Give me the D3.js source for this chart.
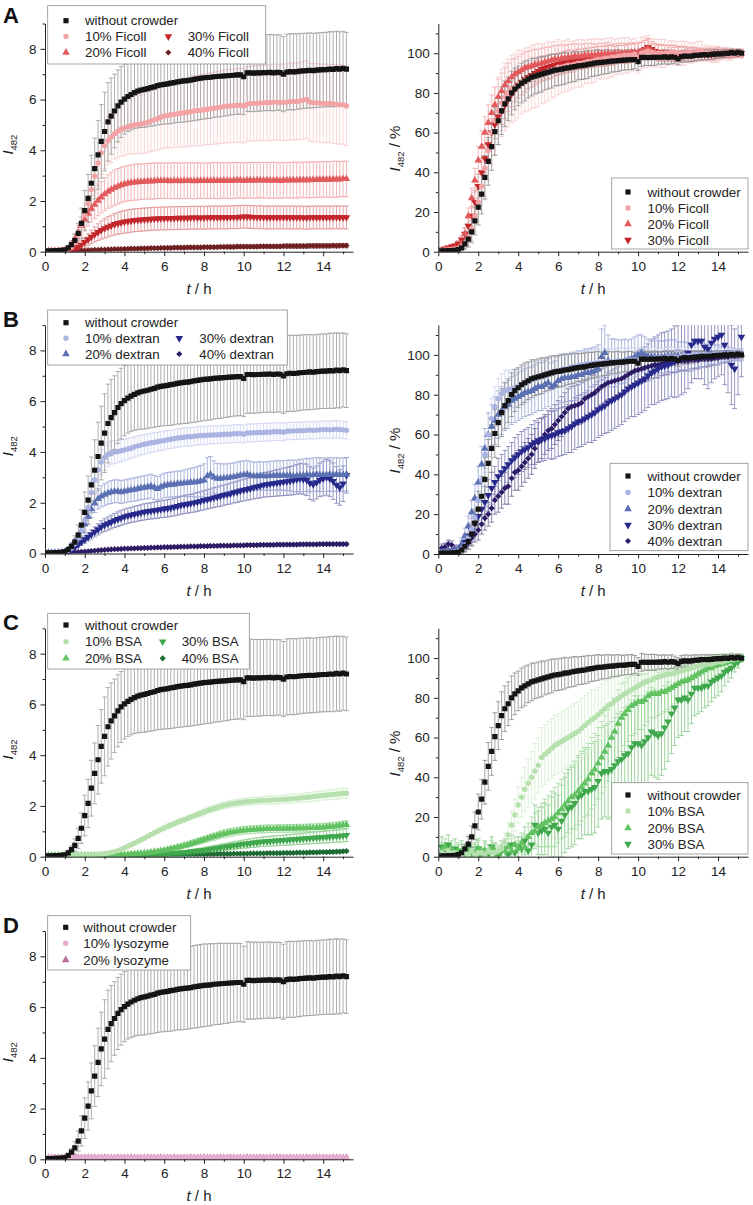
<!DOCTYPE html>
<html>
<head>
<meta charset="utf-8">
<script src="https://cdn.jsdelivr.net/npm/d3@7"></script>
<style>
  body { margin: 0; background: #fff; }
  svg { display: block; }
</style>
</head>
<body>
<svg id="fig" width="753" height="1205"></svg>
<script>
// ---------- Data (10-min sampling) ----------
const TIME_H = [
  0.17,0.33,0.5,0.67,0.83,1, 1.17,1.33,1.5,1.67,1.83,2, 2.17,2.33,2.5,2.67,2.83,3,
  3.17,3.33,3.5,3.67,3.83,4, 4.17,4.33,4.5,4.67,4.83,5, 5.17,5.33,5.5,5.67,5.83,6,
  6.17,6.33,6.5,6.67,6.83,7, 7.17,7.33,7.5,7.67,7.83,8, 8.17,8.33,8.5,8.67,8.83,9,
  9.17,9.33,9.5,9.67,9.83,10, 10.17,10.33,10.5,10.67,10.83,11, 11.17,11.33,11.5,11.67,11.83,12,
  12.17,12.33,12.5,12.67,12.83,13, 13.17,13.33,13.5,13.67,13.83,14, 14.17,14.33,14.5,14.67,14.83,15,
  15.17];

// without crowder (absolute)
const NOCROWD_ABS = [
  0.03,0.03,0.04,0.04,0.05,0.07, 0.15,0.28,0.45,0.72,1.12,1.62, 2.1,2.7,3.28,3.82,4.35,4.74,
  5.12,5.35,5.55,5.75,5.9,6.02, 6.12,6.2,6.27,6.33,6.37,6.4, 6.43,6.47,6.5,6.55,6.58,6.6,
  6.62,6.65,6.67,6.7,6.72,6.74, 6.75,6.77,6.8,6.82,6.84,6.86, 6.87,6.88,6.9,6.91,6.92,6.93,
  6.94,6.95,6.96,6.97,6.97,6.9, 7.05,7.05,7.04,7.05,7.05,7.06, 7.06,7.07,7.05,7.07,7.06,7.0,
  7.08,7.1,7.09,7.1,7.12,7.13, 7.14,7.15,7.14,7.16,7.17,7.18, 7.18,7.2,7.19,7.22,7.2,7.23,
  7.2];
const NOCROWD_ABS_ERR = [
  0.02,0.02,0.02,0.03,0.03,0.05, 0.1,0.15,0.25,0.4,0.6,0.8, 0.95,1.1,1.2,1.35,1.45,1.55,
  1.55,1.5,1.45,1.42,1.4,1.38, 1.38,1.4,1.42,1.45,1.47,1.5, 1.5,1.52,1.53,1.55,1.56,1.57,
  1.58,1.6,1.6,1.6,1.62,1.62, 1.62,1.62,1.63,1.63,1.63,1.63, 1.62,1.62,1.6,1.6,1.6,1.58,
  1.58,1.56,1.55,1.55,1.54,1.5, 1.53,1.52,1.52,1.51,1.51,1.5, 1.5,1.5,1.5,1.49,1.49,1.48,
  1.5,1.5,1.5,1.49,1.49,1.48, 1.48,1.48,1.47,1.47,1.47,1.47, 1.47,1.48,1.48,1.48,1.47,1.46,
  1.45];
// without crowder (normalised, %)
const NOCROWD_PCT = [
  0.4,0.4,0.5,0.6,0.7,1, 2,3.9,6.3,10,15.5,22.5, 29,37.5,45.5,53,60.5,66,
  71,74.5,77,80,82,83.5, 85,86,87,88,88.5,89, 89.5,90,90.5,91,91.5,91.7,
  92,92.4,92.6,93,93.3,93.6, 93.8,94,94.4,94.7,95,95.3, 95.4,95.6,95.8,96,96.1,96.3,
  96.4,96.5,96.7,96.8,96.8,95.8, 97.9,97.9,97.8,97.9,97.9,98, 98,98.2,97.9,98.2,98,97.2,
  98.3,98.6,98.5,98.6,98.9,99, 99.2,99.3,99.2,99.4,99.6,99.7, 99.7,100,99.9,100.3,100,100.4,
  100];
const NOCROWD_PCT_ERR = [
  0.3,0.3,0.3,0.4,0.5,0.8, 1.5,2.5,4,5.5,7,9, 10,11,12,12,12,12,
  12,11.5,11,11,10.5,10, 10,10,9.5,9.5,9,9, 9,8.5,8.5,8.5,8,8,
  8,8,7.5,7.5,7.5,7, 7,7,7,6.5,6.5,6.5, 6,6,6,5.5,5.5,5.5,
  5,5,5,5,4.5,4.5, 4.5,4,4,4,4,3.5, 3.5,3.5,3.5,3.5,3,3,
  3,3,3,2.8,2.8,2.6, 2.5,2.5,2.4,2.3,2.2,2.1, 2,2,1.9,1.8,1.8,1.7,
  1.6];

// Ficoll (absolute)
const FICOLL10_ABS = [
  0.05,0.05,0.05,0.05,0.05,0.06, 0.1,0.18,0.35,0.65,1.05,1.45, 1.9,2.45,2.98,3.5,3.9,4.18,
  4.38,4.52,4.65,4.75,4.82,4.88, 4.93,4.97,5.0,5.02,5.04,5.07, 5.1,5.15,5.2,5.25,5.3,5.35,
  5.37,5.4,5.42,5.44,5.46,5.48, 5.5,5.52,5.55,5.57,5.58,5.6, 5.62,5.64,5.66,5.68,5.7,5.72,
  5.74,5.75,5.76,5.77,5.78,5.75, 5.82,5.84,5.85,5.85,5.86,5.87, 5.88,5.88,5.9,5.9,5.88,5.9,
  5.9,5.92,5.93,5.92,5.95,5.97, 6.0,5.9,5.88,5.87,5.86,5.85, 5.84,5.85,5.83,5.82,5.8,5.8,
  5.75];
const FICOLL10_ABS_ERR = [
  0.03,0.03,0.03,0.03,0.03,0.04, 0.06,0.1,0.15,0.22,0.3,0.4, 0.5,0.6,0.7,0.8,0.85,0.9,
  0.95,1,1,1.05,1.05,1.1, 1.1,1.1,1.15,1.15,1.15,1.2, 1.2,1.2,1.22,1.24,1.25,1.27,
  1.28,1.3,1.3,1.32,1.33,1.35, 1.36,1.37,1.38,1.38,1.4,1.4, 1.4,1.42,1.42,1.43,1.43,1.44,
  1.44,1.45,1.45,1.46,1.46,1.46, 1.47,1.47,1.48,1.48,1.48,1.49, 1.49,1.5,1.5,1.5,1.5,1.51,
  1.51,1.51,1.52,1.52,1.52,1.53, 1.53,1.53,1.54,1.54,1.54,1.55, 1.55,1.55,1.55,1.56,1.56,1.56,
  1.56];
const FICOLL20_ABS = [
  0.03,0.03,0.03,0.04,0.04,0.05, 0.1,0.25,0.5,0.75,1.02,1.28, 1.5,1.7,1.86,2.02,2.15,2.27,
  2.37,2.45,2.52,2.58,2.63,2.67, 2.7,2.72,2.74,2.75,2.76,2.77, 2.78,2.78,2.79,2.8,2.8,2.8,
  2.8,2.79,2.8,2.8,2.79,2.8, 2.8,2.8,2.79,2.8,2.8,2.8, 2.8,2.8,2.81,2.8,2.8,2.81,
  2.81,2.8,2.81,2.82,2.82,2.8, 2.82,2.82,2.81,2.82,2.82,2.82, 2.82,2.81,2.82,2.82,2.8,2.82,
  2.82,2.82,2.83,2.82,2.83,2.83, 2.83,2.83,2.84,2.84,2.85,2.85, 2.85,2.85,2.86,2.86,2.86,2.87,
  2.87];
const FICOLL20_ABS_ERR = [
  0.02,0.02,0.02,0.02,0.02,0.03, 0.06,0.12,0.2,0.28,0.35,0.42, 0.48,0.52,0.56,0.6,0.62,0.65,
  0.66,0.68,0.69,0.7,0.7,0.7, 0.7,0.7,0.71,0.71,0.7,0.7, 0.7,0.71,0.71,0.7,0.7,0.7,
  0.7,0.7,0.71,0.71,0.7,0.7, 0.7,0.71,0.71,0.7,0.7,0.7, 0.7,0.7,0.71,0.71,0.7,0.7,
  0.7,0.71,0.71,0.7,0.7,0.7, 0.7,0.7,0.71,0.71,0.7,0.7, 0.7,0.71,0.71,0.7,0.7,0.7,
  0.7,0.7,0.71,0.71,0.7,0.7, 0.7,0.71,0.71,0.7,0.7,0.7, 0.7,0.7,0.71,0.71,0.7,0.7,
  0.7];
const FICOLL30_ABS = [
  0.03,0.03,0.03,0.03,0.03,0.03, 0.05,0.08,0.12,0.18,0.27,0.38, 0.48,0.58,0.68,0.77,0.85,0.92,
  0.98,1.03,1.08,1.12,1.15,1.18, 1.2,1.22,1.24,1.25,1.26,1.27, 1.28,1.29,1.3,1.3,1.31,1.31,
  1.32,1.32,1.32,1.33,1.33,1.33, 1.33,1.34,1.34,1.34,1.34,1.34, 1.35,1.35,1.35,1.35,1.35,1.35,
  1.35,1.36,1.36,1.36,1.37,1.38, 1.38,1.37,1.36,1.36,1.36,1.35, 1.35,1.35,1.35,1.35,1.35,1.35,
  1.35,1.35,1.35,1.35,1.35,1.34, 1.34,1.35,1.35,1.35,1.35,1.35, 1.35,1.35,1.35,1.36,1.35,1.35,
  1.35];
const FICOLL30_ABS_ERR = [
  0.02,0.02,0.02,0.02,0.02,0.02, 0.03,0.05,0.08,0.11,0.15,0.19, 0.23,0.27,0.3,0.33,0.36,0.38,
  0.4,0.41,0.42,0.43,0.44,0.45, 0.45,0.45,0.45,0.45,0.45,0.45, 0.45,0.45,0.45,0.45,0.45,0.45,
  0.45,0.45,0.45,0.45,0.45,0.45, 0.45,0.45,0.45,0.45,0.45,0.45, 0.45,0.45,0.45,0.45,0.45,0.45,
  0.45,0.45,0.45,0.45,0.45,0.45, 0.45,0.45,0.45,0.45,0.45,0.45, 0.45,0.45,0.45,0.45,0.45,0.45,
  0.45,0.45,0.45,0.45,0.45,0.45, 0.45,0.45,0.45,0.45,0.45,0.45, 0.45,0.45,0.45,0.45,0.45,0.45,
  0.45];
const FICOLL40_ABS = [
  0.02,0.02,0.02,0.02,0.02,0.02, 0.03,0.03,0.04,0.04,0.05,0.05, 0.06,0.06,0.07,0.07,0.08,0.08,
  0.09,0.09,0.1,0.1,0.1,0.11, 0.11,0.12,0.12,0.12,0.13,0.13, 0.13,0.14,0.14,0.14,0.15,0.15,
  0.15,0.15,0.16,0.16,0.16,0.16, 0.17,0.17,0.17,0.17,0.17,0.18, 0.18,0.18,0.18,0.18,0.19,0.19,
  0.19,0.19,0.19,0.2,0.2,0.2, 0.2,0.2,0.2,0.2,0.21,0.21, 0.21,0.21,0.21,0.21,0.21,0.22,
  0.22,0.22,0.22,0.22,0.22,0.22, 0.22,0.23,0.23,0.23,0.23,0.23, 0.23,0.23,0.24,0.23,0.24,0.24,
  0.24];
const FICOLL40_ABS_ERR = [
  0.01,0.01,0.01,0.01,0.01,0.01, 0.02,0.02,0.02,0.02,0.02,0.02, 0.02,0.02,0.03,0.03,0.03,0.03,
  0.03,0.04,0.04,0.04,0.04,0.04, 0.05,0.05,0.05,0.05,0.05,0.05, 0.05,0.05,0.05,0.05,0.05,0.05,
  0.06,0.06,0.06,0.06,0.06,0.06, 0.06,0.06,0.06,0.06,0.06,0.06, 0.06,0.06,0.06,0.06,0.06,0.06,
  0.07,0.07,0.07,0.07,0.07,0.07, 0.07,0.07,0.07,0.07,0.07,0.07, 0.07,0.07,0.07,0.07,0.07,0.07,
  0.08,0.08,0.08,0.08,0.08,0.08, 0.08,0.08,0.08,0.08,0.08,0.08, 0.08,0.08,0.08,0.08,0.08,0.08,
  0.08];

// Ficoll (normalised, %)
const FICOLL10_PCT = [
  0.5,0.8,1,1,1.2,1.5, 2.5,4,7,11.5,18,25, 33,42,51,60,66,71,
  75,78,80,82,83,84.5, 85.5,86.5,87,88,88.5,89, 89.5,90,91,91.5,92,93,
  93,93.5,94,94,94.5,95, 95,95.5,96,96,96.5,97, 97,97.5,97.5,98,98,98.5,
  98.5,99,99,99,99.5,98, 100,100.5,101,100.5,100,100, 100,100,100,100.5,100,100,
  100,100,100.5,100,100.5,101, 101,100,100,99.5,99.5,99.5, 99.5,100,99.5,99.5,99.5,100,
  99.5];
const FICOLL10_PCT_ERR = [
  0.5,0.5,0.6,0.8,1,1.2, 2,3,4,6,8,10, 12,14,15,16,17,17,
  17,17,17,17,17,17, 16,16,16,16,16,16, 15,15,15,14,14,14,
  13,13,13,12,12,12, 12,11,11,11,11,10, 10,10,10,10,9,9,
  9,9,9,8,8,8, 8,8,8,7,7,7, 7,7,6,6,6,6,
  6,6,5,5,5,5, 5,4,4,4,4,4, 3,3,3,3,2,2,
  2];
const FICOLL20_PCT = [
  0.5,1,1,1.2,1.5,2, 4,9,18,27,36,46, 53,60,65,70,74,78,
  81,84,86,88,89.5,90.5, 91.5,92.5,93,93.5,94,94.5, 95,95.5,96,96.5,97,97,
  97.5,97.5,98,98,98.5,98.5, 98.5,99,99,99,99,99.5, 99.5,99.5,100,99.5,100,100,
  100,100,100,100.5,100.5,100.5, 101,102,102.5,101,100.5,100, 100,100,100,99.5,99.5,99.5,
  99.5,99.5,99.5,99.5,99.5,99.5, 99.5,99.5,99.5,99.5,100,100, 100,100,100,100,100,100,
  100];
const FICOLL20_PCT_ERR = [
  0.5,0.5,0.5,0.5,0.5,1, 1.5,3,4,5,6,7, 8,8,9,9,9,9,
  9,9,9,9,8,8, 8,8,8,8,8,7.5, 7.5,7.5,7,7,7,7,
  7,6.5,6.5,6.5,6.5,6, 6,6,6,6,5.5,5.5, 5.5,5.5,5.5,5,5,5,
  5,5,5,5,4.5,4.5, 4.5,4.5,4.5,4,4,4, 4,4,4,3.5,3.5,3.5,
  3.5,3.5,3,3,3,3, 3,3,3,2.5,2.5,2.5, 2.5,2.5,2,2,2,2,
  2];
const FICOLL30_PCT = [
  1,1.5,2,2.5,3,4, 6,9,13,18,25,33, 40,47,54,60,64,68,
  71,74,77,79.5,82,84, 85.5,87,88,89,90,91, 92,92.5,93,93.5,94,94.5,
  95,95.5,96,96,96.5,97, 97,97.5,97.5,98,98,98.5, 98.5,98.5,99,99,99,99.5,
  99.5,99.5,100,100,100.5,100.5, 101,102,103,102,101,100.5, 100.5,100,100,100,100,100,
  100,100,99.5,99.5,99.5,99.5, 99.5,99.5,99.5,99.5,99.5,100, 100,100,100,100,100,100,
  100];
const FICOLL30_PCT_ERR = [
  0.5,0.5,0.8,1,1,1.5, 2,3,4,5,6,6, 7,7,7,7,7,7,
  7,7,6.5,6.5,6.5,6.5, 6.5,6.5,6,6,6,6, 6,6,6,6,5.5,5.5,
  5.5,5.5,5.5,5.5,5,5, 5,5,5,5,5,5, 5,5,5,5,4.5,4.5,
  4.5,4.5,4.5,4.5,4.5,4.5, 4.5,4.5,4.5,4,4,4, 4,4,4,4,4,3.5,
  3.5,3.5,3.5,3.5,3.5,3, 3,3,3,3,3,3, 2.5,2.5,2.5,2.5,2,2,
  2];

// dextran (absolute)
const DEXTRAN10_ABS = [
  0.03,0.03,0.03,0.04,0.05,0.07, 0.12,0.22,0.38,0.6,0.9,1.3, 1.8,2.4,2.9,3.3,3.6,3.78,
  3.9,3.97,4.0,4.02,4.05,4.08, 4.12,4.15,4.2,4.24,4.27,4.3, 4.33,4.36,4.38,4.4,4.43,4.45,
  4.48,4.5,4.52,4.55,4.56,4.58, 4.6,4.6,4.62,4.63,4.65,4.65, 4.66,4.67,4.67,4.68,4.68,4.7,
  4.7,4.7,4.72,4.72,4.73,4.7, 4.75,4.75,4.76,4.76,4.77,4.77, 4.78,4.78,4.8,4.8,4.8,4.78,
  4.82,4.82,4.83,4.83,4.84,4.84, 4.85,4.86,4.85,4.86,4.87,4.88, 4.88,4.87,4.88,4.9,4.88,4.87,
  4.85];
const DEXTRAN10_ABS_ERR = [
  0.02,0.02,0.02,0.02,0.03,0.03, 0.05,0.08,0.12,0.18,0.25,0.32, 0.4,0.45,0.5,0.5,0.5,0.5,
  0.48,0.46,0.45,0.44,0.43,0.42, 0.41,0.4,0.4,0.4,0.39,0.39, 0.38,0.38,0.38,0.37,0.37,0.37,
  0.36,0.36,0.36,0.36,0.36,0.36, 0.36,0.36,0.36,0.36,0.36,0.36, 0.35,0.35,0.35,0.35,0.35,0.35,
  0.35,0.35,0.35,0.35,0.35,0.35, 0.35,0.35,0.35,0.35,0.35,0.35, 0.35,0.35,0.35,0.35,0.35,0.35,
  0.34,0.34,0.34,0.34,0.34,0.34, 0.34,0.34,0.34,0.34,0.34,0.34, 0.34,0.34,0.34,0.34,0.34,0.34,
  0.34];
const DEXTRAN20_ABS = [
  0.03,0.03,0.03,0.04,0.05,0.06, 0.15,0.28,0.45,0.65,0.88,1.15, 1.45,1.75,1.98,2.15,2.25,2.32,
  2.38,2.42,2.45,2.45,2.42,2.45, 2.48,2.5,2.52,2.55,2.58,2.6, 2.62,2.65,2.6,2.55,2.62,2.68,
  2.7,2.72,2.72,2.75,2.75,2.77, 2.78,2.8,2.8,2.82,2.85,2.88, 3.05,3.12,3.0,2.95,2.95,2.97,
  2.98,3.0,3.02,3.05,3.08,3.1, 3.12,3.08,3.05,3.05,3.06,3.05, 3.05,3.06,3.07,3.08,3.07,3.08,
  3.07,3.08,3.05,3.06,3.07,3.08, 3.1,3.08,3.1,3.12,3.1,3.1, 3.1,3.12,3.1,3.12,3.1,3.1,
  3.12];
const DEXTRAN20_ABS_ERR = [
  0.02,0.02,0.02,0.02,0.03,0.03, 0.05,0.08,0.12,0.16,0.2,0.25, 0.3,0.34,0.37,0.4,0.42,0.43,
  0.44,0.45,0.45,0.45,0.45,0.45, 0.45,0.45,0.46,0.46,0.46,0.46, 0.47,0.47,0.47,0.48,0.48,0.48,
  0.49,0.49,0.5,0.5,0.5,0.52, 0.54,0.56,0.58,0.6,0.62,0.65, 0.72,0.7,0.65,0.6,0.58,0.56,
  0.55,0.55,0.55,0.55,0.55,0.55, 0.55,0.55,0.55,0.55,0.56,0.56, 0.56,0.57,0.57,0.58,0.58,0.58,
  0.6,0.6,0.62,0.62,0.64,0.64, 0.65,0.65,0.66,0.66,0.66,0.66, 0.66,0.66,0.66,0.66,0.66,0.66,
  0.66];
const DEXTRAN30_ABS = [
  0.03,0.03,0.03,0.03,0.04,0.05, 0.1,0.17,0.25,0.35,0.45,0.55, 0.65,0.75,0.85,0.95,1.05,1.12,
  1.18,1.24,1.3,1.35,1.4,1.45, 1.49,1.52,1.55,1.58,1.61,1.64, 1.66,1.68,1.7,1.72,1.74,1.76,
  1.78,1.8,1.83,1.86,1.9,1.93, 1.95,1.97,2.0,2.03,2.06,2.1, 2.13,2.16,2.2,2.23,2.26,2.3,
  2.33,2.36,2.4,2.43,2.47,2.5, 2.53,2.56,2.6,2.63,2.66,2.7, 2.72,2.74,2.76,2.78,2.8,2.82,
  2.84,2.86,2.88,2.92,2.95,2.93, 2.9,2.78,2.72,2.8,2.9,2.95, 3.0,2.95,2.85,2.7,2.6,2.75,
  3.08];
const DEXTRAN30_ABS_ERR = [
  0.02,0.02,0.02,0.02,0.02,0.03, 0.04,0.06,0.08,0.1,0.12,0.14, 0.16,0.18,0.2,0.22,0.24,0.25,
  0.26,0.27,0.28,0.29,0.3,0.3, 0.3,0.3,0.31,0.31,0.31,0.32, 0.32,0.32,0.33,0.33,0.33,0.34,
  0.34,0.34,0.35,0.35,0.35,0.36, 0.36,0.36,0.37,0.37,0.37,0.38, 0.38,0.38,0.39,0.39,0.4,0.4,
  0.4,0.41,0.41,0.42,0.42,0.43, 0.43,0.44,0.45,0.46,0.47,0.48, 0.49,0.5,0.51,0.52,0.53,0.54,
  0.55,0.56,0.57,0.58,0.6,0.6, 0.62,0.65,0.65,0.65,0.66,0.68, 0.7,0.7,0.72,0.72,0.7,0.7,
  0.7];
const DEXTRAN40_ABS = [
  0.02,0.02,0.02,0.02,0.02,0.03, 0.03,0.04,0.05,0.06,0.07,0.08, 0.09,0.1,0.11,0.12,0.13,0.14,
  0.15,0.16,0.17,0.17,0.18,0.19, 0.19,0.2,0.2,0.21,0.21,0.22, 0.22,0.23,0.23,0.24,0.24,0.25,
  0.25,0.25,0.26,0.26,0.27,0.27, 0.27,0.28,0.28,0.28,0.29,0.29, 0.29,0.3,0.3,0.3,0.31,0.31,
  0.31,0.31,0.32,0.32,0.32,0.32, 0.33,0.33,0.33,0.33,0.34,0.34, 0.34,0.34,0.34,0.35,0.35,0.35,
  0.35,0.35,0.35,0.35,0.36,0.36, 0.36,0.36,0.36,0.36,0.37,0.37, 0.37,0.37,0.37,0.37,0.37,0.37,
  0.37];
const DEXTRAN40_ABS_ERR = [
  0.01,0.01,0.01,0.01,0.01,0.01, 0.01,0.01,0.02,0.02,0.02,0.02, 0.02,0.02,0.02,0.02,0.02,0.02,
  0.03,0.03,0.03,0.03,0.03,0.03, 0.03,0.03,0.03,0.03,0.03,0.03, 0.03,0.03,0.03,0.03,0.03,0.03,
  0.04,0.04,0.04,0.04,0.04,0.04, 0.04,0.04,0.04,0.04,0.04,0.04, 0.04,0.04,0.04,0.04,0.04,0.04,
  0.04,0.04,0.04,0.04,0.04,0.04, 0.05,0.05,0.05,0.05,0.05,0.05, 0.05,0.05,0.05,0.05,0.05,0.05,
  0.05,0.05,0.05,0.05,0.05,0.05, 0.05,0.05,0.05,0.05,0.05,0.05, 0.05,0.05,0.05,0.05,0.05,0.05,
  0.05];

// dextran (normalised, %)
const DEXTRAN10_PCT = [
  0.5,0.5,0.6,0.8,1,1.5, 2.5,4.5,8,12.5,18.5,27, 37,50,60,68,74,78,
  80.5,82,82.5,83,83.5,84, 85,85.5,86.5,87.5,88,88.5, 89,90,90.5,91,91.5,92,
  92.5,93,93,94,94,94.5, 95,95,95.5,95.5,96,96, 96,96.5,96.5,96.5,96.5,97,
  97,97,97.5,97.5,97.5,97, 98,98,98,98,98.5,98.5, 98.5,98.5,99,99,99,98.5,
  99.5,99.5,99.5,99.5,100,100, 100,100,100,100,100.5,100.5, 100.5,100.5,100.5,101,100.5,100.5,
  100];
const DEXTRAN10_PCT_ERR = [
  0.5,0.5,0.5,0.8,1,1.5, 2,3,4,5,6,7, 8,9,10,10,10,10,
  10,10,10,9.5,9.5,9.5, 9,9,9,9,8.5,8.5, 8.5,8.5,8,8,8,8,
  8,7.5,7.5,7.5,7.5,7.5, 7,7,7,7,7,7, 7,6.5,6.5,6.5,6.5,6.5,
  6.5,6,6,6,6,6, 5.5,5.5,5.5,5.5,5.5,5, 5,5,5,5,4.5,4.5,
  4.5,4.5,4,4,4,4, 4,3.5,3.5,3.5,3.5,3, 3,3,3,2.5,2.5,2.5,
  2];
const DEXTRAN20_PCT = [
  1,1,1.5,1.5,2,2.5, 5,9,14,21,28,36, 45,53,60,64,67,70,
  72,74,75,77,78,79, 80,81,81.5,82,83,84, 84,85,86,84,85,87,
  88,88.5,88.5,89,89,90, 90,91,91,91.5,92,93, 99,101,97,96,96,96.5,
  96.5,97,97.5,98,99,100, 101,100,99,99,99,99, 99,99,99.5,99.5,99.5,99.5,
  99.5,99.5,99,99,99.5,99.5, 100,99.5,100,100.5,100,100, 100,100.5,100,100.5,100,100,
  100];
const DEXTRAN20_PCT_ERR = [
  1,1,1,1,1.5,2, 3,4,5,6,7,8, 9,10,11,11,12,12,
  12,12,12,12,12,12, 12,12,12,12,12,12, 12,12,12,12,12,12,
  12,12,12,12,12,12, 12,12,12,12,12,12, 14,14,13,12,12,11,
  11,11,10,10,10,10, 9,9,9,9,9,8, 8,8,8,8,8,7,
  7,7,7,7,6,6, 6,6,5,5,5,5, 4,4,4,3,3,3,
  3];
const DEXTRAN30_PCT = [
  0.5,0.5,1,1,1.5,2, 3.5,6,9,12,15.5,19, 22.5,26,29.5,33,36,39,
  41,43,45,47,48.5,50, 51.5,52.5,53.5,55,56,57, 57.5,58,59,59.5,60,61,
  61.5,62,63,64,65.5,66.5, 67,68,69,70,71,72.5, 73.5,74.5,76,77,78,79,
  80,81.5,83,84,85,86, 87,88,89.5,91,92,93, 94,94.5,95,96,96.5,97,
  98,99,101,105,107,107, 107,104,103,106,108,109, 110,105,101,95,93,100,
  109];
const DEXTRAN30_PCT_ERR = [
  1,1,1,1,1.5,2, 3,4,5,6,6,7, 7,8,8,8,8,9,
  9,9,9,9,10,10, 10,10,10,10,11,11, 11,11,11,12,12,12,
  12,12,12,13,13,13, 13,13,13,14,14,14, 14,14,15,15,15,15,
  15,15,15,15,16,16, 16,16,16,16,17,17, 17,17,17,17,18,18,
  18,18,18,19,19,19, 19,19,20,20,20,20, 20,20,20,20,20,20,
  20];
const DEXTRAN40_PCT = [
  3,3.5,5,4.5,2.5,2, 2.5,4,5.5,8,10,12, 15,18,20,23,27,29,
  31,33,34,38,41,42, 44,46,48,50,53,56, 58,60,62,63,65,67,
  69,71,73,74,74.5,75, 76,78,79,80,81,82.5, 84,85,86,86.5,87,87.5,
  88,89,90,91,92,92.5, 93,93.5,94,94.5,95,95, 95.5,96,96,96.5,96.5,97,
  97,97,97,97.5,97.5,97.5, 98,98,98,98,98.5,98.5, 99,99,99,99.5,99.5,100,
  100];
const DEXTRAN40_PCT_ERR = [
  2,2,2,2,2,2, 2,3,3,4,4,5, 5,6,6,7,7,8,
  8,8,9,9,9,10, 10,10,10,10,10,10, 10,10,10,10,10,10,
  10,10,10,10,10,10, 10,9.5,9.5,9.5,9,9, 9,9,8.5,8.5,8.5,8,
  8,8,8,7.5,7.5,7.5, 7,7,7,6.5,6.5,6.5, 6,6,6,5.5,5.5,5.5,
  5,5,5,4.5,4.5,4.5, 4,4,4,3.5,3.5,3.5, 3,3,2.5,2.5,2,2,
  2];

// BSA (absolute)
const BSA10_ABS = [
  0.05,0.05,0.05,0.05,0.05,0.05, 0.05,0.05,0.05,0.06,0.06,0.06, 0.07,0.08,0.09,0.1,0.11,0.12,
  0.14,0.17,0.2,0.24,0.29,0.35, 0.41,0.47,0.53,0.6,0.66,0.73, 0.8,0.87,0.94,1.0,1.07,1.13,
  1.19,1.25,1.3,1.36,1.41,1.46, 1.51,1.56,1.61,1.66,1.71,1.76, 1.81,1.86,1.9,1.94,1.98,2.02,
  2.05,2.08,2.1,2.12,2.14,2.16, 2.17,2.18,2.19,2.2,2.21,2.22, 2.22,2.23,2.24,2.24,2.25,2.26,
  2.27,2.28,2.29,2.3,2.31,2.33, 2.34,2.35,2.37,2.38,2.4,2.41, 2.43,2.44,2.45,2.47,2.48,2.5,
  2.5];
const BSA10_ABS_ERR = [
  0.02,0.02,0.02,0.02,0.02,0.02, 0.02,0.02,0.02,0.02,0.02,0.02, 0.02,0.02,0.02,0.02,0.02,0.02,
  0.02,0.03,0.03,0.04,0.04,0.05, 0.05,0.06,0.06,0.07,0.07,0.08, 0.08,0.08,0.09,0.09,0.09,0.1,
  0.1,0.1,0.1,0.1,0.1,0.1, 0.1,0.11,0.11,0.11,0.12,0.12, 0.12,0.12,0.13,0.13,0.13,0.13,
  0.14,0.14,0.14,0.14,0.14,0.14, 0.14,0.15,0.15,0.15,0.15,0.15, 0.16,0.16,0.16,0.16,0.16,0.16,
  0.17,0.17,0.17,0.17,0.17,0.17, 0.18,0.18,0.18,0.18,0.18,0.18, 0.19,0.19,0.2,0.2,0.2,0.2,
  0.2];
const BSA20_ABS = [
  0.05,0.05,0.05,0.05,0.05,0.05, 0.05,0.05,0.05,0.05,0.05,0.05, 0.05,0.05,0.05,0.05,0.05,0.06,
  0.06,0.06,0.07,0.07,0.08,0.08, 0.09,0.1,0.11,0.12,0.13,0.14, 0.15,0.17,0.19,0.21,0.23,0.25,
  0.28,0.31,0.34,0.37,0.4,0.44, 0.47,0.51,0.55,0.59,0.63,0.67, 0.71,0.75,0.79,0.83,0.87,0.9,
  0.93,0.96,0.98,1.0,1.02,1.04, 1.05,1.06,1.07,1.08,1.09,1.09, 1.1,1.1,1.1,1.11,1.11,1.11,
  1.11,1.12,1.12,1.12,1.13,1.13, 1.13,1.14,1.14,1.15,1.15,1.16, 1.17,1.18,1.19,1.21,1.23,1.25,
  1.26];
const BSA20_ABS_ERR = [
  0.02,0.02,0.02,0.02,0.02,0.02, 0.02,0.02,0.02,0.02,0.02,0.02, 0.02,0.02,0.02,0.02,0.02,0.02,
  0.02,0.02,0.02,0.02,0.02,0.02, 0.02,0.03,0.03,0.03,0.04,0.04, 0.04,0.05,0.05,0.06,0.06,0.07,
  0.07,0.08,0.08,0.09,0.09,0.1, 0.1,0.11,0.11,0.12,0.12,0.13, 0.13,0.13,0.14,0.14,0.14,0.15,
  0.15,0.15,0.15,0.15,0.15,0.15, 0.15,0.15,0.15,0.15,0.15,0.15, 0.15,0.15,0.15,0.15,0.15,0.15,
  0.15,0.15,0.15,0.15,0.15,0.15, 0.15,0.15,0.15,0.15,0.15,0.15, 0.15,0.15,0.15,0.15,0.15,0.15,
  0.15];
const BSA30_ABS = [
  0.04,0.04,0.04,0.04,0.04,0.04, 0.04,0.04,0.04,0.04,0.04,0.04, 0.04,0.04,0.04,0.04,0.05,0.05,
  0.05,0.05,0.05,0.05,0.06,0.06, 0.06,0.06,0.07,0.07,0.07,0.08, 0.08,0.09,0.09,0.1,0.1,0.11,
  0.12,0.13,0.14,0.15,0.16,0.17, 0.18,0.2,0.21,0.23,0.24,0.26, 0.28,0.3,0.32,0.34,0.36,0.38,
  0.4,0.42,0.44,0.46,0.48,0.5, 0.51,0.53,0.55,0.56,0.58,0.59, 0.6,0.61,0.62,0.63,0.64,0.65,
  0.66,0.67,0.68,0.69,0.7,0.71, 0.72,0.73,0.74,0.75,0.76,0.77, 0.78,0.79,0.8,0.81,0.82,0.83,
  0.85];
const BSA30_ABS_ERR = [
  0.02,0.02,0.02,0.02,0.02,0.02, 0.02,0.02,0.02,0.02,0.02,0.02, 0.02,0.02,0.02,0.02,0.02,0.02,
  0.02,0.02,0.02,0.02,0.02,0.02, 0.02,0.02,0.02,0.02,0.02,0.02, 0.03,0.03,0.03,0.04,0.04,0.04,
  0.05,0.05,0.06,0.06,0.07,0.07, 0.08,0.08,0.09,0.09,0.1,0.1, 0.11,0.11,0.12,0.12,0.13,0.13,
  0.14,0.14,0.15,0.15,0.16,0.16, 0.17,0.17,0.18,0.18,0.18,0.19, 0.19,0.19,0.2,0.2,0.2,0.2,
  0.21,0.21,0.21,0.21,0.22,0.22, 0.22,0.22,0.23,0.23,0.23,0.23, 0.24,0.24,0.24,0.24,0.25,0.25,
  0.25];
const BSA40_ABS = [
  0.03,0.03,0.03,0.03,0.03,0.03, 0.03,0.03,0.03,0.03,0.03,0.03, 0.03,0.03,0.03,0.04,0.04,0.04,
  0.04,0.04,0.04,0.05,0.05,0.05, 0.05,0.05,0.06,0.06,0.06,0.06, 0.06,0.07,0.07,0.07,0.07,0.07,
  0.08,0.08,0.08,0.08,0.08,0.09, 0.09,0.09,0.09,0.09,0.1,0.1, 0.1,0.1,0.1,0.11,0.11,0.11,
  0.11,0.11,0.12,0.12,0.12,0.12, 0.12,0.13,0.13,0.13,0.13,0.13, 0.14,0.14,0.14,0.14,0.14,0.15,
  0.15,0.15,0.15,0.16,0.16,0.16, 0.16,0.17,0.17,0.17,0.18,0.18, 0.18,0.19,0.19,0.2,0.2,0.21,
  0.22];
const BSA40_ABS_ERR = [
  0.02,0.02,0.02,0.02,0.02,0.02, 0.02,0.02,0.02,0.02,0.02,0.02, 0.02,0.02,0.02,0.02,0.02,0.02,
  0.02,0.02,0.02,0.02,0.02,0.02, 0.02,0.02,0.02,0.02,0.02,0.02, 0.02,0.02,0.02,0.02,0.02,0.02,
  0.03,0.03,0.03,0.03,0.03,0.03, 0.03,0.03,0.03,0.03,0.03,0.03, 0.03,0.03,0.03,0.03,0.03,0.03,
  0.03,0.03,0.03,0.03,0.03,0.03, 0.04,0.04,0.04,0.04,0.04,0.04, 0.04,0.04,0.04,0.04,0.04,0.04,
  0.04,0.04,0.04,0.04,0.04,0.04, 0.05,0.05,0.05,0.05,0.05,0.05, 0.05,0.05,0.05,0.05,0.05,0.05,
  0.05];

// BSA (normalised, %)
const BSA10_PCT = [
  2,1,3,1,2,1, 0,2,1,3,1,2, 2,1,3,2,2,3,
  4,7,11,16,21,26, 30,34,37,40,43,46, 50,51.5,53,54.5,56,57,
  58,59,60,61,62,63, 64.5,66,67.5,69,70,71.5, 73,74.5,76,77,78.5,79.5,
  81,82,83,84,85,86, 87,88,88.5,89,90,90.5, 91,91.5,92,92,92.5,93,
  93.5,94,94.5,95,95.5,96, 96,96.5,97,97,97.5,98, 98,98.5,99,99.5,99.5,100,
  100];
const BSA10_PCT_ERR = [
  3,3,3,3,3,3, 3,3,3,3,3,3, 3,3,3,3,3,3,
  4,5,6,7,8,9, 10,11,12,13,14,14, 15,15,15,15,15,15,
  15,15,15,15,15,15, 15,15,15,15,14,14, 14,14,13,13,13,12,
  12,12,11,11,11,10, 10,10,9,9,9,8, 8,8,8,7,7,7,
  7,6,6,6,6,5, 5,5,5,4,4,4, 4,3,3,3,2,2,
  2];
const BSA20_PCT = [
  3,5,2,4,1,3, 2,0,3,1,2,4, 1,3,2,4,3,2,
  4,3,5,3,6,4, 7,5,10,12,13,15, 16,17,18,19,20,22,
  24,26,28,30,31,33, 35,37,39,42,44,47, 50,53,56,60,63,67,
  70,72,74,76,77,78, 78,79,81,82,82,82, 83,83,84,85,86,87,
  88,88.5,89,90,91,92, 93,94,95,95,96,96.5, 97,97.5,98,98.5,99,99.5,
  100];
const BSA20_PCT_ERR = [
  4,4,4,4,4,4, 4,4,4,4,4,4, 4,4,4,4,4,4,
  4,4,4,4,4,4, 5,6,7,8,9,10, 11,12,13,14,15,15,
  15,16,16,16,17,17, 17,17,18,18,18,18, 18,18,18,18,17,17,
  17,16,16,15,15,14, 14,13,13,12,12,11, 11,10,10,10,9,9,
  9,8,8,8,7,7, 7,6,6,6,5,5, 5,4,4,3,3,2,
  2];
const BSA30_PCT = [
  5,2,6,0,4,1, 3,1,5,0,2,4, 0,3,1,5,2,0,
  3,4,1,6,2,5, 4,8,3,6,16,12, 13,14,12,15,16,14,
  18,21,24,25,27,30, 31,33,33,34,35,38, 42,43,43,44,46,48,
  49,51,52,55,57,57, 56,58,60,63,62,61, 62,65,68,72,75,79,
  79,80,79,82,85,85, 85,86,86,88,89,90, 91,93,94,95,97,98,
  100];
const BSA30_PCT_ERR = [
  5,5,5,5,5,5, 5,5,5,5,5,5, 5,5,5,5,5,5,
  5,5,5,5,5,5, 6,7,8,9,10,11, 12,13,14,15,16,17,
  18,19,20,20,21,21, 22,22,22,23,23,23, 23,23,24,24,24,24,
  24,24,24,24,24,24, 23,23,23,22,22,22, 21,21,20,20,19,19,
  18,17,16,15,14,13, 12,11,10,10,9,9, 8,7,6,5,4,3,
  2];

// lysozyme (absolute)
const LYSO10_ABS = [
  0.07,0.07,0.07,0.07,0.07,0.07, 0.07,0.08,0.07,0.07,0.08,0.07, 0.07,0.07,0.08,0.07,0.07,0.07,
  0.08,0.07,0.07,0.07,0.08,0.07, 0.07,0.07,0.07,0.08,0.07,0.07, 0.07,0.08,0.07,0.07,0.07,0.07,
  0.08,0.07,0.07,0.07,0.07,0.08, 0.07,0.07,0.07,0.08,0.07,0.07, 0.07,0.07,0.08,0.07,0.07,0.07,
  0.08,0.07,0.07,0.07,0.07,0.07, 0.07,0.08,0.07,0.07,0.07,0.08, 0.07,0.07,0.07,0.07,0.08,0.07,
  0.07,0.07,0.08,0.07,0.07,0.07, 0.07,0.08,0.07,0.07,0.07,0.07, 0.08,0.07,0.07,0.07,0.08,0.07,
  0.07];
const LYSO20_ABS = [
  0.06,0.06,0.06,0.06,0.06,0.06, 0.06,0.06,0.07,0.06,0.06,0.06, 0.07,0.06,0.06,0.06,0.06,0.07,
  0.06,0.06,0.06,0.07,0.06,0.06, 0.06,0.07,0.06,0.06,0.06,0.06, 0.07,0.06,0.06,0.06,0.07,0.06,
  0.06,0.06,0.07,0.06,0.06,0.06, 0.06,0.07,0.06,0.06,0.06,0.07, 0.06,0.06,0.06,0.06,0.07,0.06,
  0.06,0.07,0.06,0.06,0.06,0.06, 0.07,0.06,0.06,0.06,0.07,0.06, 0.06,0.06,0.06,0.07,0.06,0.06,
  0.06,0.07,0.06,0.06,0.06,0.06, 0.07,0.06,0.06,0.07,0.06,0.06, 0.06,0.06,0.07,0.06,0.06,0.06,
  0.06];
const LYSO_ABS_ERR = [
  0.03,0.03,0.03,0.03,0.03,0.03, 0.03,0.03,0.03,0.03,0.03,0.03, 0.03,0.03,0.03,0.03,0.03,0.03,
  0.03,0.03,0.03,0.03,0.03,0.03, 0.03,0.03,0.03,0.03,0.03,0.03, 0.03,0.03,0.03,0.03,0.03,0.03,
  0.03,0.03,0.03,0.03,0.03,0.03, 0.03,0.03,0.03,0.03,0.03,0.03, 0.03,0.03,0.03,0.03,0.03,0.03,
  0.03,0.03,0.03,0.03,0.03,0.03, 0.03,0.03,0.03,0.03,0.03,0.03, 0.03,0.03,0.03,0.03,0.03,0.03,
  0.03,0.03,0.03,0.03,0.03,0.03, 0.03,0.03,0.03,0.03,0.03,0.03, 0.03,0.03,0.03,0.03,0.03,0.03,
  0.03];

const X_MAJOR = [0, 2, 4, 6, 8, 10, 12, 14];
const X_MINOR = [1, 3, 5, 7, 9, 11, 13, 15];
const ABS_MAJOR = [0, 2, 4, 6, 8];
const ABS_MINOR = [1, 3, 5, 7, 9];
const PCT_MAJOR = [0, 20, 40, 60, 80, 100];
const PCT_MINOR = [10, 30, 50, 70, 90, 110];

// ---------- Styles ----------
const FONT = '"Liberation Sans", Arial, Helvetica, sans-serif';
const TICK_FS = 13.5;
const SHAPES = {
  square:  { type: d3.symbolSquare,   size: 27, rot: 0 },
  circle:  { type: d3.symbolCircle,   size: 23, rot: 0 },
  up:      { type: d3.symbolTriangle, size: 25, rot: 0 },
  down:    { type: d3.symbolTriangle, size: 25, rot: 180 },
  diamond: { type: d3.symbolSquare,   size: 19, rot: 45 }
};

const mk = (label, values, errors, shape, color, bar) => ({ label, values, errors, shape, color, bar });

const S_NOCROWD_ABS = mk('without crowder', NOCROWD_ABS, NOCROWD_ABS_ERR, 'square', '#141414', '#9a9a9a');
const S_NOCROWD_PCT = mk('without crowder', NOCROWD_PCT, NOCROWD_PCT_ERR, 'square', '#141414', '#8a8a8a');

const FIC_C = ['#f3a3a5', '#e25a5c', '#c2262b', '#6e1f22'];
const FIC_B = ['#f7cccd', '#f0a4a6', '#e08a8c', '#a06a6a'];
const DEX_C = ['#aab4e2', '#5a70b3', '#26288c', '#2e1b66'];
const DEX_B = ['#cfd4f0', '#9aa6d6', '#7c7cb6', '#6f6296'];
const BSA_C = ['#b6e0ae', '#62c262', '#3fa84c', '#1d6b33'];
const BSA_B = ['#d3edcd', '#9ed99a', '#86c986', '#5c9468'];
const LYS_C = ['#e5abcd', '#b96e98'];
const LYS_B = ['#efcde0', '#d6a6c2'];

const svg = d3.select('#fig').attr('font-family', FONT);

const COL_L = [45, 353];
const COL_R = [438.3, 748];

function drawPanel(p) {
  const x = d3.scaleLinear().domain([0, 15.5]).range(p.cols);
  const y = d3.scaleLinear().domain([0, p.yMax]).range([p.bottom, p.top]);
  const id = 'clip-' + p.id;

  svg.append('clipPath').attr('id', id).append('rect')
    .attr('x', p.cols[0]).attr('y', p.top)
    .attr('width', p.cols[1] - p.cols[0]).attr('height', p.bottom - p.top);

  const g = svg.append('g').attr('clip-path', `url(#${id})`);
  const order = p.series.slice().reverse();

  // error bars
  const cap = 2.4;
  order.forEach(s => {
    const d = s.values.map((v, i) => {
      const px = x(TIME_H[i]);
      const y1 = y(v - s.errors[i]), y2 = y(v + s.errors[i]);
      return `M${px},${y1}V${y2}M${px - cap},${y1}H${px + cap}M${px - cap},${y2}H${px + cap}`;
    }).join('');
    g.append('path').attr('d', d).attr('fill', 'none')
      .attr('stroke', s.bar).attr('stroke-width', 0.8);
  });

  // markers
  order.forEach(s => {
    const sh = SHAPES[s.shape];
    const gen = d3.symbol().type(sh.type).size(sh.size);
    g.append('g').selectAll('path').data(s.values).join('path')
      .attr('d', gen)
      .attr('transform', (v, i) => `translate(${x(TIME_H[i])},${y(v)}) rotate(${sh.rot})`)
      .attr('fill', s.color);
  });

  // axes
  const axisStyle = sel => {
    sel.attr('font-family', FONT).attr('font-size', TICK_FS).style('color', '#222');
    sel.select('.domain').attr('stroke-width', 1);
  };
  svg.append('g').attr('transform', `translate(0,${p.bottom})`)
    .call(d3.axisBottom(x).tickValues(X_MINOR).tickSize(2.5).tickFormat(''))
    .call(s => s.select('.domain').remove()).style('color', '#222');
  svg.append('g').attr('transform', `translate(0,${p.bottom})`)
    .call(d3.axisBottom(x).tickValues(X_MAJOR).tickSize(4.5).tickSizeOuter(0).tickPadding(5))
    .call(axisStyle);

  const yMinor = p.pct ? PCT_MINOR : ABS_MINOR;
  const yMajor = p.pct ? PCT_MAJOR : ABS_MAJOR;
  svg.append('g').attr('transform', `translate(${p.cols[0]},0)`)
    .call(d3.axisLeft(y).tickValues(yMinor).tickSize(2.5).tickFormat(''))
    .call(s => s.select('.domain').remove()).style('color', '#222');
  svg.append('g').attr('transform', `translate(${p.cols[0]},0)`)
    .call(d3.axisLeft(y).tickValues(yMajor).tickSize(4.5).tickSizeOuter(0).tickPadding(4))
    .call(axisStyle);

  // axis titles
  const xt = svg.append('text')
    .attr('x', (p.cols[0] + p.cols[1]) / 2).attr('y', p.bottom + 42)
    .attr('text-anchor', 'middle').attr('font-size', 15).attr('fill', '#222');
  xt.append('tspan').attr('font-style', 'italic').text('t');
  xt.append('tspan').text(' / h');

  const ty = (p.top + p.bottom) / 2 + (p.pct ? 11 : 7);
  const tx = p.pct ? p.cols[0] - 38 : p.cols[0] - 32;
  const yt = svg.append('text')
    .attr('transform', `translate(${tx},${ty}) rotate(-90)`)
    .attr('text-anchor', 'middle').attr('font-size', 15).attr('fill', '#222');
  yt.append('tspan').attr('font-style', 'italic').text('I');
  yt.append('tspan').attr('font-size', 9.5).attr('dy', 3.5).text('482');
  if (p.pct) yt.append('tspan').attr('dy', -3.5).text(' / %');

  // panel letter
  if (p.letter) {
    svg.append('text').attr('x', 3).attr('y', p.letterY)
      .attr('font-size', 22).attr('font-weight', 'bold').attr('fill', '#111')
      .text(p.letter);
  }

  // legend
  const L = p.legend;
  const lg = svg.append('g');
  lg.append('rect').attr('x', L.box[0]).attr('y', L.box[1])
    .attr('width', L.box[2] - L.box[0]).attr('height', L.box[3] - L.box[1])
    .attr('fill', '#fff').attr('stroke', '#8e8e8e').attr('stroke-width', 0.8);
  p.series.forEach((s, i) => {
    const [row, col] = L.layout[i];
    const ry = L.rows[row];
    const [mx, txx] = L.cols[col];
    const sh = SHAPES[s.shape];
    lg.append('path').attr('d', d3.symbol().type(sh.type).size(sh.size)())
      .attr('transform', `translate(${mx},${ry}) rotate(${sh.rot})`)
      .attr('fill', s.color);
    lg.append('text').attr('x', txx).attr('y', ry).attr('dy', '0.36em')
      .attr('font-size', 13.3).attr('fill', '#222').text(s.label);
  });
}

// ---------- Panels ----------
const ficollAbs = [
  S_NOCROWD_ABS,
  mk('10% Ficoll', FICOLL10_ABS, FICOLL10_ABS_ERR, 'circle', FIC_C[0], FIC_B[0]),
  mk('20% Ficoll', FICOLL20_ABS, FICOLL20_ABS_ERR, 'up', FIC_C[1], FIC_B[1]),
  mk('30% Ficoll', FICOLL30_ABS, FICOLL30_ABS_ERR, 'down', FIC_C[2], FIC_B[2]),
  mk('40% Ficoll', FICOLL40_ABS, FICOLL40_ABS_ERR, 'diamond', FIC_C[3], FIC_B[3])
];
const ficollPct = [
  S_NOCROWD_PCT,
  mk('10% Ficoll', FICOLL10_PCT, FICOLL10_PCT_ERR, 'circle', FIC_C[0], FIC_B[0]),
  mk('20% Ficoll', FICOLL20_PCT, FICOLL20_PCT_ERR, 'up', FIC_C[1], FIC_B[1]),
  mk('30% Ficoll', FICOLL30_PCT, FICOLL30_PCT_ERR, 'down', FIC_C[2], FIC_B[2])
];
const dextranAbs = [
  S_NOCROWD_ABS,
  mk('10% dextran', DEXTRAN10_ABS, DEXTRAN10_ABS_ERR, 'circle', DEX_C[0], DEX_B[0]),
  mk('20% dextran', DEXTRAN20_ABS, DEXTRAN20_ABS_ERR, 'up', DEX_C[1], DEX_B[1]),
  mk('30% dextran', DEXTRAN30_ABS, DEXTRAN30_ABS_ERR, 'down', DEX_C[2], DEX_B[2]),
  mk('40% dextran', DEXTRAN40_ABS, DEXTRAN40_ABS_ERR, 'diamond', DEX_C[3], DEX_B[3])
];
const dextranPct = [
  S_NOCROWD_PCT,
  mk('10% dextran', DEXTRAN10_PCT, DEXTRAN10_PCT_ERR, 'circle', DEX_C[0], DEX_B[0]),
  mk('20% dextran', DEXTRAN20_PCT, DEXTRAN20_PCT_ERR, 'up', DEX_C[1], DEX_B[1]),
  mk('30% dextran', DEXTRAN30_PCT, DEXTRAN30_PCT_ERR, 'down', DEX_C[2], DEX_B[2]),
  mk('40% dextran', DEXTRAN40_PCT, DEXTRAN40_PCT_ERR, 'diamond', DEX_C[3], DEX_B[3])
];
const bsaAbs = [
  S_NOCROWD_ABS,
  mk('10% BSA', BSA10_ABS, BSA10_ABS_ERR, 'circle', BSA_C[0], BSA_B[0]),
  mk('20% BSA', BSA20_ABS, BSA20_ABS_ERR, 'up', BSA_C[1], BSA_B[1]),
  mk('30% BSA', BSA30_ABS, BSA30_ABS_ERR, 'down', BSA_C[2], BSA_B[2]),
  mk('40% BSA', BSA40_ABS, BSA40_ABS_ERR, 'diamond', BSA_C[3], BSA_B[3])
];
const bsaPct = [
  S_NOCROWD_PCT,
  mk('10% BSA', BSA10_PCT, BSA10_PCT_ERR, 'circle', BSA_C[0], BSA_B[0]),
  mk('20% BSA', BSA20_PCT, BSA20_PCT_ERR, 'up', BSA_C[1], BSA_B[1]),
  mk('30% BSA', BSA30_PCT, BSA30_PCT_ERR, 'down', BSA_C[2], BSA_B[2])
];
const lysoAbs = [
  S_NOCROWD_ABS,
  mk('10% lysozyme', LYSO10_ABS, LYSO_ABS_ERR, 'circle', LYS_C[0], LYS_B[0]),
  mk('20% lysozyme', LYSO20_ABS, LYSO_ABS_ERR, 'up', LYS_C[1], LYS_B[1])
];

const GRID5 = [[0, 0], [1, 0], [2, 0], [1, 1], [2, 1]];
const STACK = [[0, 0], [1, 0], [2, 0], [3, 0], [4, 0]];
const RIGHT_COLS = [[628, 647.5]];

drawPanel({ id: 'AL', letter: 'A', letterY: 23, cols: COL_L, top: 23.5, bottom: 251.7, yMax: 9, pct: false,
  series: ficollAbs,
  legend: { box: [47.7, 5.7, 265.7, 64], rows: [20.7, 36.5, 52.5], cols: [[66, 85], [168.3, 187.7]], layout: GRID5 } });
drawPanel({ id: 'AR', cols: COL_R, top: 23.5, bottom: 251.7, yMax: 115, pct: true,
  series: ficollPct,
  legend: { box: [611.7, 178, 748, 249], rows: [192, 208, 224, 240], cols: RIGHT_COLS, layout: STACK } });

drawPanel({ id: 'BL', letter: 'B', letterY: 327, cols: COL_L, top: 325, bottom: 553.5, yMax: 9, pct: false,
  series: dextranAbs,
  legend: { box: [47.7, 310, 287.3, 365], rows: [322.7, 338.3, 354], cols: [[66, 85], [179.3, 199.3]], layout: GRID5 } });
drawPanel({ id: 'BR', cols: COL_R, top: 325, bottom: 554, yMax: 115, pct: true,
  series: dextranPct,
  legend: { box: [610, 463.3, 748, 550.7], rows: [476, 492.5, 509, 525, 541], cols: RIGHT_COLS, layout: STACK } });

drawPanel({ id: 'CL', letter: 'C', letterY: 630, cols: COL_L, top: 628.3, bottom: 856.7, yMax: 9, pct: false,
  series: bsaAbs,
  legend: { box: [47.7, 613.3, 249.3, 669], rows: [625, 641.7, 658.3], cols: [[66, 85], [162.7, 181.7]], layout: GRID5 } });
drawPanel({ id: 'CR', cols: COL_R, top: 628.3, bottom: 856.7, yMax: 115, pct: true,
  series: bsaPct,
  legend: { box: [611.7, 782.7, 748, 854], rows: [795, 811, 828, 844], cols: RIGHT_COLS, layout: STACK } });

drawPanel({ id: 'DL', letter: 'D', letterY: 933, cols: COL_L, top: 931, bottom: 1159.3, yMax: 9, pct: false,
  series: lysoAbs,
  legend: { box: [47.7, 915.7, 190.7, 970], rows: [927.3, 943.3, 960], cols: [[65.7, 83.3]], layout: STACK } });
</script>
</body>
</html>
